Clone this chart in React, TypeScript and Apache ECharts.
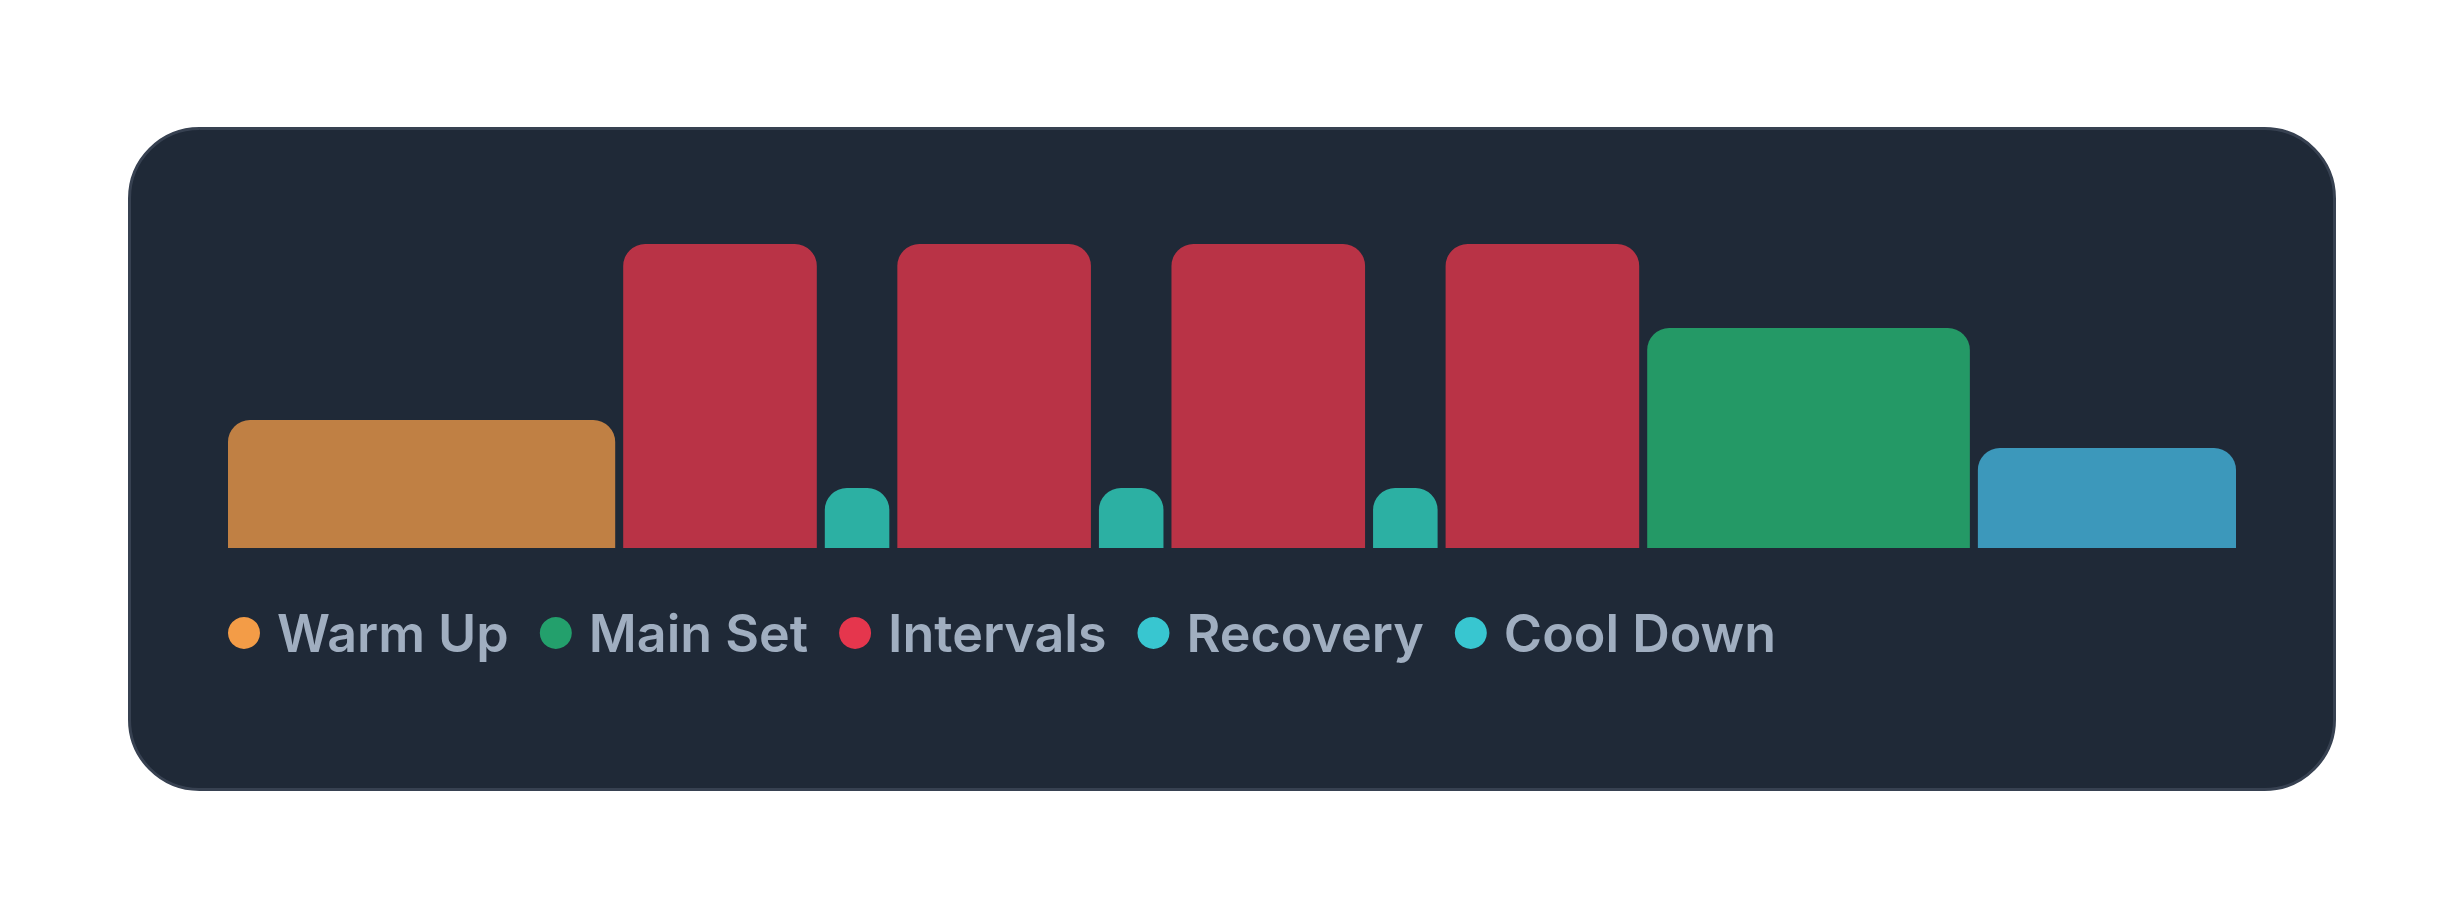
import React, { useEffect, useRef } from "react";
import * as echarts from "echarts";

// Workout phases in order (minutes and relative intensity)
const PHASE_TYPES = [
  "Warm Up",
  "Intervals",
  "Recovery",
  "Intervals",
  "Recovery",
  "Intervals",
  "Recovery",
  "Intervals",
  "Main Set",
  "Cool Down",
];
const DURATIONS = [6, 3, 1, 3, 1, 3, 1, 3, 5, 4];
const INTENSITY = [32, 76, 15, 76, 15, 76, 15, 76, 55, 25];

const LEGEND_NAMES = ["Warm Up", "Main Set", "Intervals", "Recovery", "Cool Down"];
const LEGEND_COLORS = ["#f39c47", "#23a06c", "#e5364d", "#38c6d0", "#38c6d0"];
const BAR_COLORS = ["#c08044", "#249966", "#b93346", "#2cb0a3", "#3c98bb"];

const GAP = 8;

export default function App() {
  const ref = useRef<HTMLDivElement>(null);

  useEffect(() => {
    document.body.style.margin = "0";
    if (!ref.current) return;
    const chart = echarts.init(ref.current, null, { renderer: "svg" });

    // build segments [start, end, intensity, index]
    const starts: number[] = [];
    let acc = 0;
    DURATIONS.forEach((d) => {
      starts.push(acc);
      acc += d;
    });
    const total = acc;

    const series = LEGEND_NAMES.map((name, k) => {
      const color = BAR_COLORS[k];
      const data: number[][] = [];
      PHASE_TYPES.forEach((t, i) => {
        if (t === name) data.push([starts[i], starts[i] + DURATIONS[i], INTENSITY[i], i]);
      });
      return {
        type: "custom",
        name,
        itemStyle: { color },
        encode: { x: [0, 1], y: 2 },
        data,
        renderItem: (params: any, api: any) => {
          const s = api.value(0);
          const e = api.value(1);
          const v = api.value(2);
          const idx = api.value(3);
          const p0 = api.coord([s, 0]);
          const p1 = api.coord([e, v]);
          const off = idx * GAP;
          return {
            type: "rect",
            shape: {
              x: p0[0] + off,
              y: p1[1],
              width: p1[0] - p0[0],
              height: p0[1] - p1[1],
              r: [22, 22, 0, 0],
            },
            style: { fill: color },
          };
        },
      };
    });

    chart.setOption({
      animation: false,
      backgroundColor: "#ffffff",
      graphic: [
        {
          type: "rect",
          z: -10,
          silent: true,
          shape: { x: 129.5, y: 128.5, width: 2205, height: 661, r: 70 },
          style: { fill: "#1f2937", stroke: "#374151", lineWidth: 3 },
        },
      ],
      grid: { left: 228, top: 244, width: 1936, height: 304 },
      xAxis: {
        type: "value",
        min: 0,
        max: total,
        show: false,
      },
      yAxis: {
        type: "value",
        min: 0,
        max: "dataMax",
        show: false,
      },
      legend: {
        left: 228,
        top: 607,
        padding: 0,
        icon: "circle",
        itemWidth: 32,
        itemHeight: 32,
        itemGap: 31,
        selectedMode: false,
        data: LEGEND_NAMES.map((n, k) => ({
          name: n,
          itemStyle: { color: LEGEND_COLORS[k] },
        })),
        textStyle: {
          color: "#a0aec0",
          fontFamily: "Inter",
          fontWeight: 600,
          fontSize: 52,
          lineHeight: 52,
          padding: [0, 0, 0, 12],
        },
      },
      series,
    });

    return () => chart.dispose();
  }, []);

  return <div ref={ref} style={{ width: 2464, height: 920 }} />;
}
